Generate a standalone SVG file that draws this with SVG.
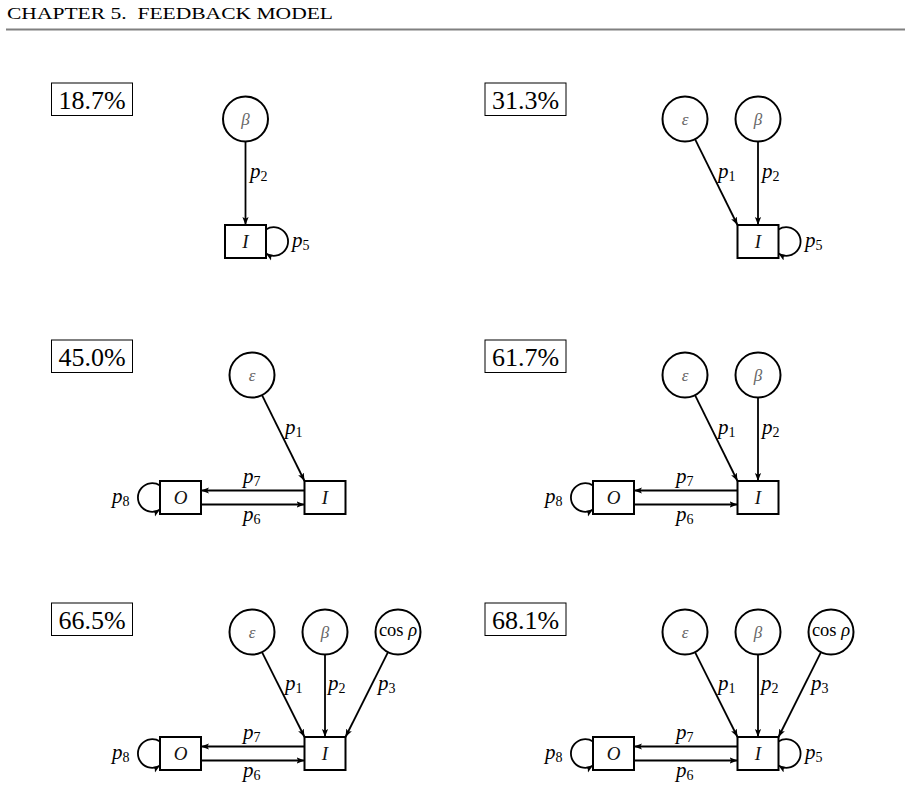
<svg xmlns="http://www.w3.org/2000/svg" width="905" height="785" viewBox="0 0 905 785">
<defs>
<marker id="ah" markerUnits="userSpaceOnUse" markerWidth="10" markerHeight="8" refX="8" refY="4" orient="auto"><path d="M0,0.9 L8,4 L0,7.1 L1.8,4 z" fill="#000"/></marker>
<style>
.nd{fill:#fff;stroke:#000;stroke-width:2}
.cn{fill:none;stroke:#000;stroke-width:1.8;marker-end:url(#ah)}
.lb{fill:#fff;stroke:#000;stroke-width:1}
.pct{font-family:"Liberation Serif",serif;font-size:26px;text-anchor:middle;fill:#000}
.gr{font-family:"Liberation Serif",serif;font-style:italic;font-size:17px;fill:#666;text-anchor:middle}
.cs{font-family:"Liberation Serif",serif;font-size:18.5px;fill:#000;text-anchor:middle}
.bx{font-family:"Liberation Serif",serif;font-style:italic;font-size:19px;text-anchor:middle;fill:#111}
.pl{font-family:"Liberation Serif",serif;font-style:italic;font-size:21px;fill:#000}
.sb{font-style:normal;font-size:14px}
.hd{font-family:"Liberation Serif",serif;font-size:17px;fill:#000}
</style>
</defs>
<rect width="905" height="785" fill="#fff"/>
<g id="header">
<text class="hd" x="7" y="19" textLength="326" lengthAdjust="spacingAndGlyphs" xml:space="preserve">CHAPTER 5.  FEEDBACK MODEL</text>
<line x1="6" y1="29.5" x2="905" y2="29.5" stroke="#808080" stroke-width="2"/>
</g>

<!-- Panel 1: 18.7% -->
<g id="panel1">
<g id="p1-label"><rect class="lb" x="51.5" y="83" width="81" height="32.5"/><text class="pct" x="92" y="108.5">18.7%</text></g>
<g id="p1-beta"><circle class="nd" cx="245.5" cy="119" r="22.5"/><text class="gr" x="245.5" y="124.5">β</text></g>
<g id="p1-I"><rect class="nd" x="225" y="225" width="41" height="33"/><text class="bx" x="245.5" y="248">I</text></g>
<g id="p1-connectors">
<path class="cn" d="M245.5,141.5 L245.5,225"/>
<path class="cn" d="M266,229.5 A14.3,14.3 0 1 1 266,253.5"/>
<text class="pl" x="250" y="178">p<tspan class="sb" dy="3">2</tspan></text>
<text class="pl" x="292" y="247">p<tspan class="sb" dy="3">5</tspan></text>
</g>
</g>

<!-- Panel 2: 31.3% -->
<g id="panel2">
<g id="p2-label"><rect class="lb" x="485" y="83" width="81" height="32.5"/><text class="pct" x="525.5" y="108.5">31.3%</text></g>
<g id="p2-eps"><circle class="nd" cx="685" cy="119" r="22.5"/><text class="gr" x="685" y="124.5">ε</text></g>
<g id="p2-beta"><circle class="nd" cx="758" cy="119" r="22.5"/><text class="gr" x="758" y="124.5">β</text></g>
<g id="p2-I"><rect class="nd" x="737.5" y="225" width="41" height="33"/><text class="bx" x="758" y="248">I</text></g>
<g id="p2-connectors">
<path class="cn" d="M695,139.2 L737.5,225"/>
<path class="cn" d="M758,141.5 L758,225"/>
<path class="cn" d="M778.5,229.5 A14.3,14.3 0 1 1 778.5,253.5"/>
<text class="pl" x="718" y="178">p<tspan class="sb" dy="3">1</tspan></text>
<text class="pl" x="762" y="178">p<tspan class="sb" dy="3">2</tspan></text>
<text class="pl" x="805" y="247">p<tspan class="sb" dy="3">5</tspan></text>
</g>
</g>

<!-- Panel 3: 45.0% -->
<g id="panel3">
<g id="p3-label"><rect class="lb" x="51.5" y="340" width="81" height="32.5"/><text class="pct" x="92" y="365.5">45.0%</text></g>
<g id="p3-eps"><circle class="nd" cx="252" cy="375" r="22.5"/><text class="gr" x="252" y="380.5">ε</text></g>
<g id="p3-I"><rect class="nd" x="304.5" y="481" width="41" height="33"/><text class="bx" x="325" y="504">I</text></g>
<g id="p3-O"><rect class="nd" x="160" y="481" width="41" height="33"/><text class="bx" x="180.5" y="504">O</text></g>
<g id="p3-connectors">
<path class="cn" d="M262,395.2 L304.5,481"/>
<path class="cn" d="M304.5,490.5 L201,490.5"/>
<path class="cn" d="M201,504.5 L304.5,504.5"/>
<path class="cn" d="M160,485.5 A14.3,14.3 0 1 0 160,509.5"/>
<text class="pl" x="285" y="434">p<tspan class="sb" dy="3">1</tspan></text>
<text class="pl" x="243" y="483">p<tspan class="sb" dy="3">7</tspan></text>
<text class="pl" x="243" y="521">p<tspan class="sb" dy="3">6</tspan></text>
<text class="pl" x="112" y="503">p<tspan class="sb" dy="3">8</tspan></text>
</g>
</g>

<!-- Panel 4: 61.7% -->
<g id="panel4">
<g id="p4-label"><rect class="lb" x="485" y="340" width="81" height="32.5"/><text class="pct" x="525.5" y="365.5">61.7%</text></g>
<g id="p4-eps"><circle class="nd" cx="685" cy="375" r="22.5"/><text class="gr" x="685" y="380.5">ε</text></g>
<g id="p4-beta"><circle class="nd" cx="758" cy="375" r="22.5"/><text class="gr" x="758" y="380.5">β</text></g>
<g id="p4-I"><rect class="nd" x="737.5" y="481" width="41" height="33"/><text class="bx" x="758" y="504">I</text></g>
<g id="p4-O"><rect class="nd" x="593" y="481" width="41" height="33"/><text class="bx" x="613.5" y="504">O</text></g>
<g id="p4-connectors">
<path class="cn" d="M695,395.2 L737.5,481"/>
<path class="cn" d="M758,397.5 L758,481"/>
<path class="cn" d="M737.5,490.5 L634,490.5"/>
<path class="cn" d="M634,504.5 L737.5,504.5"/>
<path class="cn" d="M593,485.5 A14.3,14.3 0 1 0 593,509.5"/>
<text class="pl" x="718" y="434">p<tspan class="sb" dy="3">1</tspan></text>
<text class="pl" x="762" y="434">p<tspan class="sb" dy="3">2</tspan></text>
<text class="pl" x="676" y="483">p<tspan class="sb" dy="3">7</tspan></text>
<text class="pl" x="676" y="521">p<tspan class="sb" dy="3">6</tspan></text>
<text class="pl" x="545" y="503">p<tspan class="sb" dy="3">8</tspan></text>
</g>
</g>

<!-- Panel 5: 66.5% -->
<g id="panel5">
<g id="p5-label"><rect class="lb" x="51.5" y="603" width="81" height="32.5"/><text class="pct" x="92" y="628.5">66.5%</text></g>
<g id="p5-eps"><circle class="nd" cx="252" cy="632" r="22.5"/><text class="gr" x="252" y="637.5">ε</text></g>
<g id="p5-beta"><circle class="nd" cx="325" cy="632" r="22.5"/><text class="gr" x="325" y="637.5">β</text></g>
<g id="p5-cos"><circle class="nd" cx="398" cy="632" r="22.5"/><text class="cs" x="398" y="636">cos <tspan font-style="italic">ρ</tspan></text></g>
<g id="p5-I"><rect class="nd" x="304.5" y="737" width="41" height="33"/><text class="bx" x="325" y="760">I</text></g>
<g id="p5-O"><rect class="nd" x="160" y="737" width="41" height="33"/><text class="bx" x="180.5" y="760">O</text></g>
<g id="p5-connectors">
<path class="cn" d="M262,652.2 L304.5,737"/>
<path class="cn" d="M325,654.5 L325,737"/>
<path class="cn" d="M388,652.2 L345.5,737"/>
<path class="cn" d="M304.5,746.5 L201,746.5"/>
<path class="cn" d="M201,760.5 L304.5,760.5"/>
<path class="cn" d="M160,741.5 A14.3,14.3 0 1 0 160,765.5"/>
<text class="pl" x="285" y="690">p<tspan class="sb" dy="3">1</tspan></text>
<text class="pl" x="328" y="690">p<tspan class="sb" dy="3">2</tspan></text>
<text class="pl" x="378" y="690">p<tspan class="sb" dy="3">3</tspan></text>
<text class="pl" x="243" y="739">p<tspan class="sb" dy="3">7</tspan></text>
<text class="pl" x="243" y="777">p<tspan class="sb" dy="3">6</tspan></text>
<text class="pl" x="112" y="759">p<tspan class="sb" dy="3">8</tspan></text>
</g>
</g>

<!-- Panel 6: 68.1% -->
<g id="panel6">
<g id="p6-label"><rect class="lb" x="485" y="603" width="81" height="32.5"/><text class="pct" x="525.5" y="628.5">68.1%</text></g>
<g id="p6-eps"><circle class="nd" cx="685" cy="632" r="22.5"/><text class="gr" x="685" y="637.5">ε</text></g>
<g id="p6-beta"><circle class="nd" cx="758" cy="632" r="22.5"/><text class="gr" x="758" y="637.5">β</text></g>
<g id="p6-cos"><circle class="nd" cx="831" cy="632" r="22.5"/><text class="cs" x="831" y="636">cos <tspan font-style="italic">ρ</tspan></text></g>
<g id="p6-I"><rect class="nd" x="737.5" y="737" width="41" height="33"/><text class="bx" x="758" y="760">I</text></g>
<g id="p6-O"><rect class="nd" x="593" y="737" width="41" height="33"/><text class="bx" x="613.5" y="760">O</text></g>
<g id="p6-connectors">
<path class="cn" d="M695,652.2 L737.5,737"/>
<path class="cn" d="M758,654.5 L758,737"/>
<path class="cn" d="M821,652.2 L778.5,737"/>
<path class="cn" d="M737.5,746.5 L634,746.5"/>
<path class="cn" d="M634,760.5 L737.5,760.5"/>
<path class="cn" d="M593,741.5 A14.3,14.3 0 1 0 593,765.5"/>
<path class="cn" d="M778.5,741.5 A14.3,14.3 0 1 1 778.5,765.5"/>
<text class="pl" x="718" y="690">p<tspan class="sb" dy="3">1</tspan></text>
<text class="pl" x="761" y="690">p<tspan class="sb" dy="3">2</tspan></text>
<text class="pl" x="811" y="690">p<tspan class="sb" dy="3">3</tspan></text>
<text class="pl" x="676" y="739">p<tspan class="sb" dy="3">7</tspan></text>
<text class="pl" x="676" y="777">p<tspan class="sb" dy="3">6</tspan></text>
<text class="pl" x="545" y="759">p<tspan class="sb" dy="3">8</tspan></text>
<text class="pl" x="805" y="759">p<tspan class="sb" dy="3">5</tspan></text>
</g>
</g>
</svg>
